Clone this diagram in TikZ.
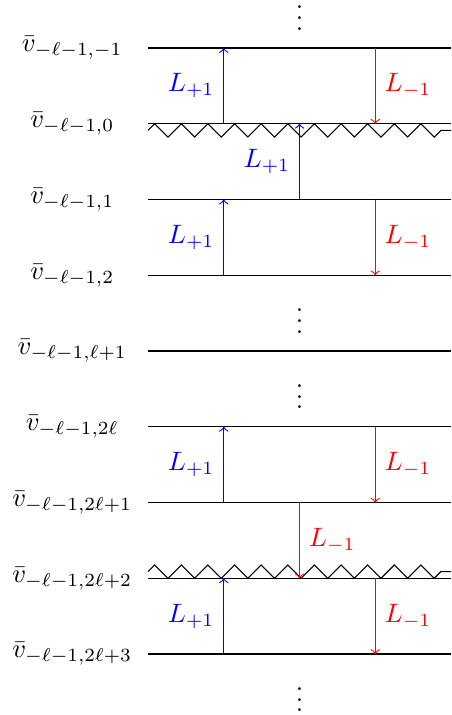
\documentclass[tikz,border=0pt]{standalone}
\usepackage{amsmath}
\usepackage{amssymb}
\usepackage{xcolor}
\usepackage{tikz}
\usetikzlibrary{calc,decorations.pathmorphing}

\begin{document}
\begin{tikzpicture}[
  levelLine/.style={line width=0.4pt, draw=black},
  raiseArr/.style={->, line width=0.4pt, draw=blue},
  lowerArr/.style={->, line width=0.4pt, draw=red},
  raiseLbl/.style={text=blue, anchor=east},
  lowerLbl/.style={text=red, anchor=west},
  cutLine/.style={line width=0.4pt, decorate, decoration={zigzag}},
  dotsLbl/.style={inner sep=0pt},
]
\def\xmax{4}
\useasboundingbox (-1.954,-8.805) rectangle (\xmax,0.634);
% energy levels
\foreach \i/\lab in {%
  0/{-1},1/0,2/1,3/2,4/{\ell+1},5/{2\ell},6/{2\ell+1},7/{2\ell+2},8/{2\ell+3}%
} {
  \coordinate (s\i) at (0,-\i);
  \coordinate (e\i) at (\xmax,-\i);
  \coordinate (a\i) at (1,-\i);
  \coordinate (m\i) at (2,-\i);
  \coordinate (b\i) at (3,-\i);
  \node (v\i) at (-1,-\i) {$\bar{v}_{-\ell-1,\lab}$};
  \draw[levelLine] (s\i) -- (e\i);
}
% cut levels
\draw[cutLine] ($(s1)+(0,-2.5pt)$) -- ($(e1)+(0,-2.5pt)$);
\draw[cutLine] ($(s7)+(0,2.5pt)$) -- ($(e7)+(0,2.5pt)$);
% dots
\foreach \n/\y in {1/0.5,2/-3.5,3/-4.5,4/-8.5}
  \node[dotsLbl] (dots\n) at (2,\y) {$\vdots$};
% raising and lowering
\foreach \from/\to in {a1/a0,m2/m1,a3/a2,a6/a5,a8/a7} {
  \draw[raiseArr] (\from) -- (\to);
  \node[raiseLbl] (up\from) at ($(\from)!0.5!(\to)$) {$L_{+1}$};
}
\foreach \from/\to in {b0/b1,b2/b3,b5/b6,m6/m7,b7/b8} {
  \draw[lowerArr] (\from) -- (\to);
  \node[lowerLbl] (dn\from) at ($(\from)!0.5!(\to)$) {$L_{-1}$};
}
\end{tikzpicture}
\end{document}
